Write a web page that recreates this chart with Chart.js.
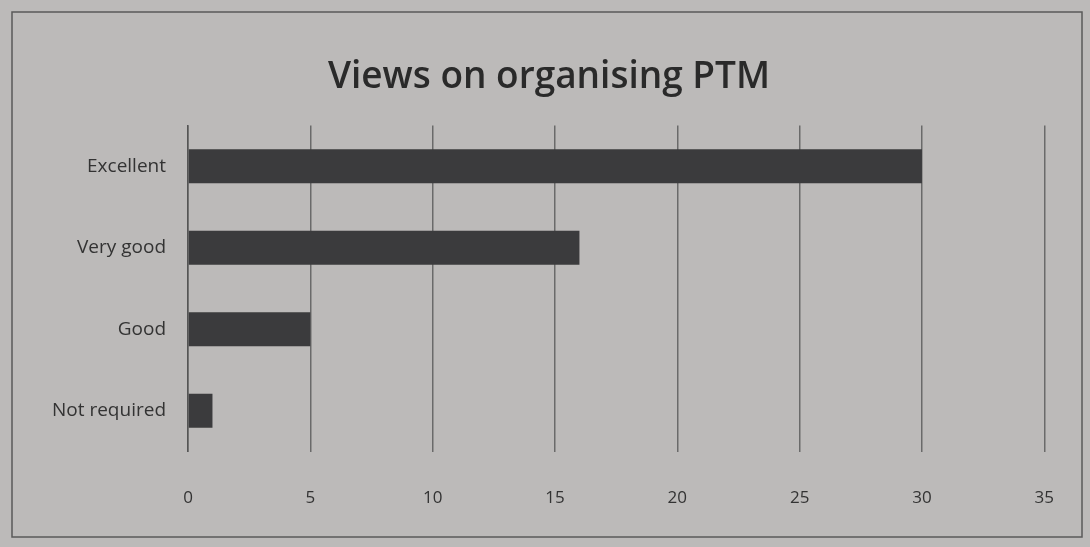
<!DOCTYPE html>
<html>
<head>
<meta charset="utf-8">
<script src="https://cdn.jsdelivr.net/npm/chart.js@4/dist/chart.umd.min.js"></script>
<style>
html,body{margin:0;padding:0;background:#bcbab9;}
#wrap{width:1090px;height:547px;}
</style>
</head>
<body>
<div id="wrap"><canvas id="c" width="1090" height="547"></canvas></div>
<script>
const categories = ["Excellent", "Very good", "Good", "Not required"];
const values = [30, 16, 5, 1];
const xTicks = [0, 5, 10, 15, 20, 25, 30, 35];
const titleText = "Views on organising PTM";

const bgPlugin = {
  id: 'bg',
  beforeDraw(chart) {
    const ctx = chart.ctx;
    ctx.save();
    ctx.fillStyle = '#bcbab9';
    ctx.fillRect(0, 0, chart.width, chart.height);
    ctx.strokeStyle = '#5a5a5a';
    ctx.lineWidth = 1.5;
    ctx.strokeRect(12, 12, chart.width - 20, chart.height - 22);
    ctx.restore();
  }
};

new Chart(document.getElementById('c'), {
  type: 'bar',
  data: {
    labels: categories,
    datasets: [{
      data: values,
      backgroundColor: '#3b3b3d',
      borderWidth: 0,
      barPercentage: 0.52,
      categoryPercentage: 0.8
    }]
  },
  options: {
    indexAxis: 'y',
    responsive: false,
    animation: false,
    layout: { padding: { left: 38, right: 30, top: 0, bottom: 3 } },
    plugins: {
      legend: { display: false },
      tooltip: { enabled: false },
      title: {
        display: true,
        text: titleText,
        color: '#2a2a2a',
        font: { family: 'Open Sans', size: 37, weight: '600' },
        padding: { top: 55, bottom: 26 }
      }
    },
    scales: {
      x: {
        min: 0, max: 35,
        afterBuildTicks(axis) { axis.ticks = xTicks.map(v => ({ value: v })); },
        grid: { color: '#6a6a6a', lineWidth: 1.5, drawTicks: false },
        border: { display: false },
        ticks: { color: '#333', font: { family: 'Open Sans', size: 17 }, padding: 36 }
      },
      y: {
        afterFit(axis) { axis.width = 150; },
        grid: { display: false },
        border: { display: true, color: '#555', width: 1.5 },
        ticks: { color: '#333', font: { family: 'Open Sans', size: 19 }, padding: 14 }
      }
    }
  },
  plugins: [bgPlugin]
});
</script>
</body>
</html>
